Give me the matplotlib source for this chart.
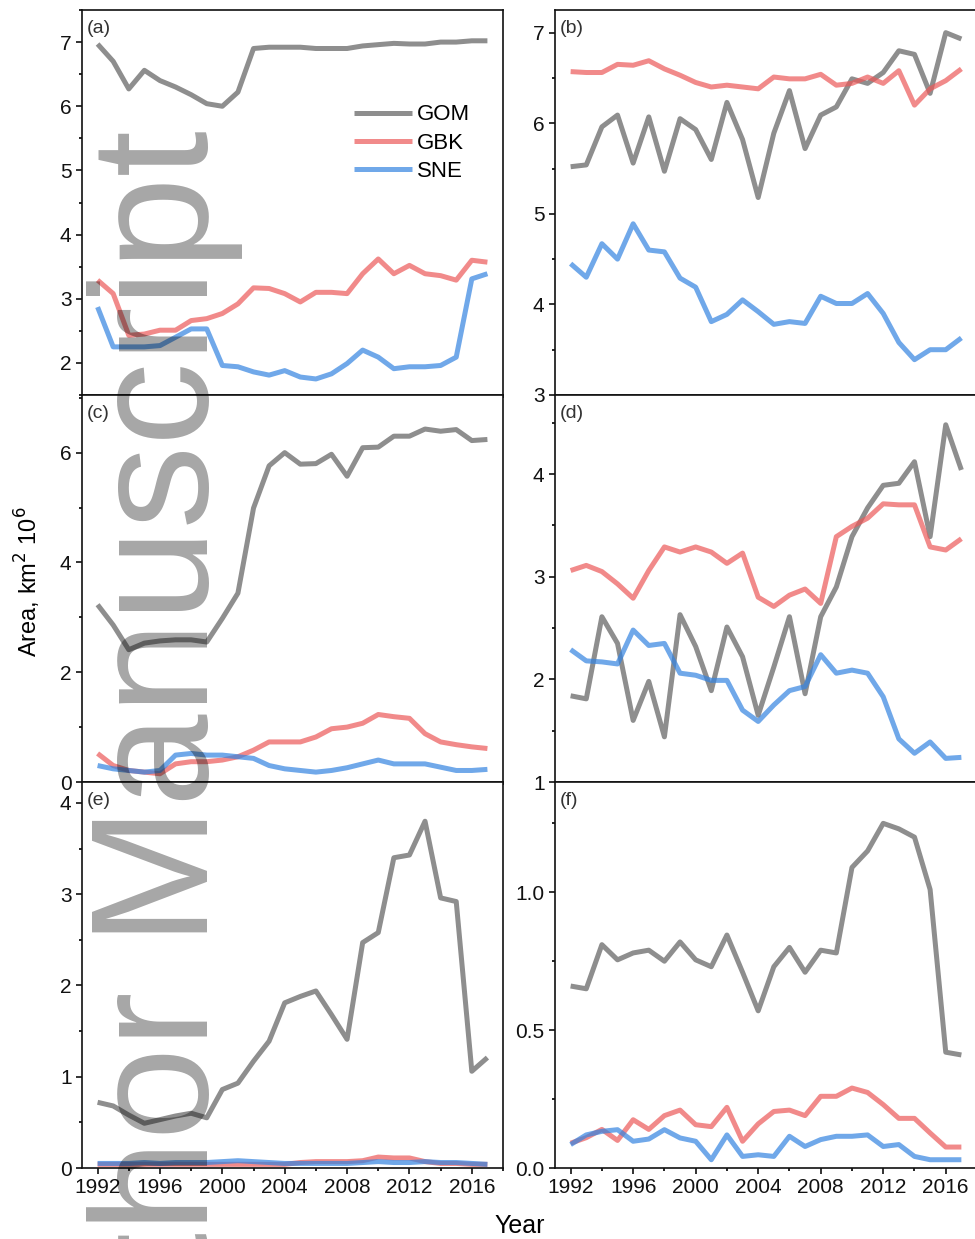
import numpy as np
import matplotlib
matplotlib.use('Agg')
import matplotlib.pyplot as plt
from matplotlib.ticker import MultipleLocator

plt.rcParams['font.family'] = ['Liberation Sans', 'DejaVu Sans']

years = np.arange(1992, 2018)
regions = ['GOM', 'GBK', 'SNE']

# panel (a)
a_gom = [6.97, 6.70, 6.27, 6.56, 6.40, 6.30, 6.18, 6.04, 6.00, 6.22, 6.90, 6.92, 6.92,
         6.92, 6.90, 6.90, 6.90, 6.94, 6.96, 6.98, 6.97, 6.97, 7.00, 7.00, 7.02, 7.02]
a_gbk = [3.29, 3.08, 2.43, 2.45, 2.51, 2.51, 2.66, 2.69, 2.77, 2.92, 3.17, 3.16, 3.08,
         2.95, 3.10, 3.10, 3.08, 3.39, 3.62, 3.39, 3.52, 3.39, 3.36, 3.29, 3.60, 3.57]
a_sne = [2.87, 2.25, 2.25, 2.25, 2.27, 2.40, 2.53, 2.53, 1.96, 1.94, 1.86, 1.81, 1.88,
         1.78, 1.75, 1.83, 1.99, 2.20, 2.09, 1.91, 1.94, 1.94, 1.96, 2.09, 3.31, 3.39]
# panel (b)
b_gom = [5.52, 5.54, 5.96, 6.09, 5.56, 6.07, 5.47, 6.05, 5.93, 5.60, 6.23, 5.82, 5.18,
         5.89, 6.36, 5.72, 6.09, 6.18, 6.49, 6.44, 6.56, 6.80, 6.76, 6.33, 7.00, 6.93]
b_gbk = [6.57, 6.56, 6.56, 6.65, 6.64, 6.69, 6.60, 6.53, 6.45, 6.40, 6.42, 6.40, 6.38,
         6.51, 6.49, 6.49, 6.54, 6.42, 6.44, 6.51, 6.44, 6.58, 6.20, 6.38, 6.47, 6.60]
b_sne = [4.45, 4.30, 4.67, 4.50, 4.89, 4.60, 4.58, 4.29, 4.19, 3.81, 3.89, 4.05, 3.92,
         3.78, 3.81, 3.79, 4.09, 4.01, 4.01, 4.12, 3.90, 3.58, 3.39, 3.50, 3.50, 3.63]
# panel (c)
c_gom = [3.23, 2.86, 2.41, 2.53, 2.57, 2.59, 2.59, 2.55, 2.98, 3.44, 4.99, 5.76, 6.00,
         5.79, 5.80, 5.97, 5.57, 6.09, 6.10, 6.30, 6.30, 6.43, 6.39, 6.42, 6.22, 6.24]
c_gbk = [0.52, 0.30, 0.21, 0.18, 0.15, 0.33, 0.37, 0.37, 0.40, 0.46, 0.58, 0.73, 0.73,
         0.73, 0.82, 0.97, 1.00, 1.07, 1.23, 1.19, 1.16, 0.88, 0.73, 0.68, 0.64, 0.61]
c_sne = [0.30, 0.24, 0.21, 0.18, 0.21, 0.49, 0.52, 0.49, 0.49, 0.46, 0.43, 0.30, 0.24,
         0.21, 0.18, 0.21, 0.26, 0.33, 0.40, 0.33, 0.33, 0.33, 0.27, 0.21, 0.21, 0.23]
# panel (d)
d_gom = [1.84, 1.81, 2.61, 2.35, 1.60, 1.98, 1.44, 2.63, 2.32, 1.89, 2.51, 2.22, 1.65,
         2.12, 2.61, 1.86, 2.61, 2.90, 3.39, 3.67, 3.89, 3.91, 4.12, 3.39, 4.48, 4.04]
d_gbk = [3.06, 3.11, 3.05, 2.93, 2.79, 3.06, 3.29, 3.24, 3.29, 3.24, 3.13, 3.23, 2.80,
         2.71, 2.82, 2.88, 2.74, 3.39, 3.49, 3.57, 3.71, 3.70, 3.70, 3.29, 3.26, 3.37]
d_sne = [2.29, 2.18, 2.17, 2.15, 2.48, 2.33, 2.35, 2.06, 2.04, 1.99, 1.99, 1.70, 1.59,
         1.75, 1.89, 1.93, 2.24, 2.06, 2.09, 2.06, 1.83, 1.42, 1.28, 1.39, 1.23, 1.24]
# panel (e)
e_gom = [0.72, 0.68, 0.58, 0.49, 0.53, 0.57, 0.60, 0.55, 0.86, 0.93, 1.17, 1.39, 1.81,
         1.88, 1.94, 1.68, 1.41, 2.47, 2.58, 3.40, 3.43, 3.80, 2.96, 2.92, 1.06, 1.21]
e_gbk = [0.04, 0.04, 0.04, 0.04, 0.04, 0.04, 0.04, 0.04, 0.04, 0.04, 0.04, 0.04, 0.04,
         0.06, 0.07, 0.07, 0.07, 0.08, 0.12, 0.11, 0.11, 0.07, 0.05, 0.05, 0.04, 0.04]
e_sne = [0.05, 0.05, 0.05, 0.06, 0.05, 0.06, 0.06, 0.06, 0.07, 0.08, 0.07, 0.06, 0.05,
         0.05, 0.05, 0.05, 0.05, 0.06, 0.07, 0.06, 0.06, 0.07, 0.06, 0.06, 0.05, 0.04]
# panel (f)
f_gom = [0.66, 0.65, 0.81, 0.755, 0.78, 0.79, 0.75, 0.82, 0.755, 0.73, 0.845, 0.71, 0.57,
         0.73, 0.80, 0.71, 0.79, 0.78, 1.09, 1.15, 1.25, 1.23, 1.20, 1.01, 0.42, 0.41]
f_gbk = [0.09, 0.11, 0.14, 0.10, 0.175, 0.14, 0.19, 0.21, 0.157, 0.15, 0.22, 0.097, 0.16,
         0.205, 0.21, 0.19, 0.26, 0.26, 0.29, 0.274, 0.23, 0.18, 0.18, 0.127, 0.076, 0.076]
f_sne = [0.085, 0.12, 0.133, 0.139, 0.097, 0.105, 0.139, 0.109, 0.097, 0.03, 0.12, 0.042, 0.048,
         0.042, 0.115, 0.078, 0.103, 0.115, 0.115, 0.12, 0.078, 0.085, 0.042, 0.03, 0.03, 0.03]

panels = {'a': [a_gom, a_gbk, a_sne], 'b': [b_gom, b_gbk, b_sne],
          'c': [c_gom, c_gbk, c_sne], 'd': [d_gom, d_gbk, d_sne],
          'e': [e_gom, e_gbk, e_sne], 'f': [f_gom, f_gbk, f_sne]}
ylims = {'a': (1.5, 7.5), 'b': (3, 7.25), 'c': (0, 7.05),
         'd': (1, 4.77), 'e': (0, 4.23), 'f': (0, 1.4)}
# (major, minor) y tick steps
ysteps = {'a': (1, 0.5), 'b': (1, 0.5), 'c': (2, 1),
          'd': (1, 0.5), 'e': (1, 0.5), 'f': (0.5, 0.25)}

# line colours, drawn with some transparency so overlaps darken
colors = ['#5e5e5e', '#ec5959', '#3383e1']

W, H = 975, 1239
fig = plt.figure(figsize=(W / 100, H / 100), dpi=100)

# axes boxes in pixels: left, top, right, bottom
cols = [(82, 503), (555, 977)]
rows = [(10, 395), (395, 782), (782, 1168)]
order = [['a', 'b'], ['c', 'd'], ['e', 'f']]

for r, (top, bot) in enumerate(rows):
    for c, (left, right) in enumerate(cols):
        key = order[r][c]
        ax = fig.add_axes([left / W, 1 - bot / H, (right - left) / W, (bot - top) / H])
        for i, vals in enumerate(panels[key]):
            ax.plot(years, vals, color=colors[i], lw=3.6, alpha=0.7,
                    solid_capstyle='butt', label=regions[i])
        ax.set_xlim(1991, 2018)
        ax.set_ylim(*ylims[key])
        ax.xaxis.set_major_locator(MultipleLocator(4))
        ax.xaxis.set_minor_locator(MultipleLocator(2))
        ax.yaxis.set_major_locator(MultipleLocator(ysteps[key][0]))
        ax.yaxis.set_minor_locator(MultipleLocator(ysteps[key][1]))
        ax.tick_params(which='major', direction='out', length=4.5, width=1.2,
                       labelsize=15, pad=3, colors='#111111')
        ax.tick_params(which='minor', direction='out', length=2.5, width=1.2)
        if r < 2:
            ax.tick_params(labelbottom=False)
        if key == 'f':
            ax.yaxis.set_major_formatter(matplotlib.ticker.FormatStrFormatter('%.1f'))
        for sp in ax.spines.values():
            sp.set_linewidth(1.2)
            sp.set_color('#111111')
        ax.text(0.012, 0.975, '(%s)' % key, transform=ax.transAxes, ha='left', va='top',
                fontsize=14, color='#333333')
        if key == 'a':
            ax.legend(loc='upper left', bbox_to_anchor=(0.647, 0.755), frameon=False,
                      fontsize=16, handlelength=2.6, handletextpad=0.2,
                      labelspacing=0.33, borderpad=0, borderaxespad=0)

fig.text(28 / W, 1 - 582 / H, 'Area, km$^2$ 10$^6$', rotation=90, ha='center', va='center',
         fontsize=17)
fig.text(520 / W, 1 - 1226 / H, 'Year', ha='center', va='center', fontsize=18)

# watermark on top of everything
fig.text(208 / W, 1 - 130 / H, 'Author Manuscript', rotation=90, rotation_mode='anchor',
         ha='right', va='baseline', fontsize=120, color='black', alpha=0.35,
         family='Liberation Sans', zorder=20)

fig.savefig('out.png', dpi=100)
